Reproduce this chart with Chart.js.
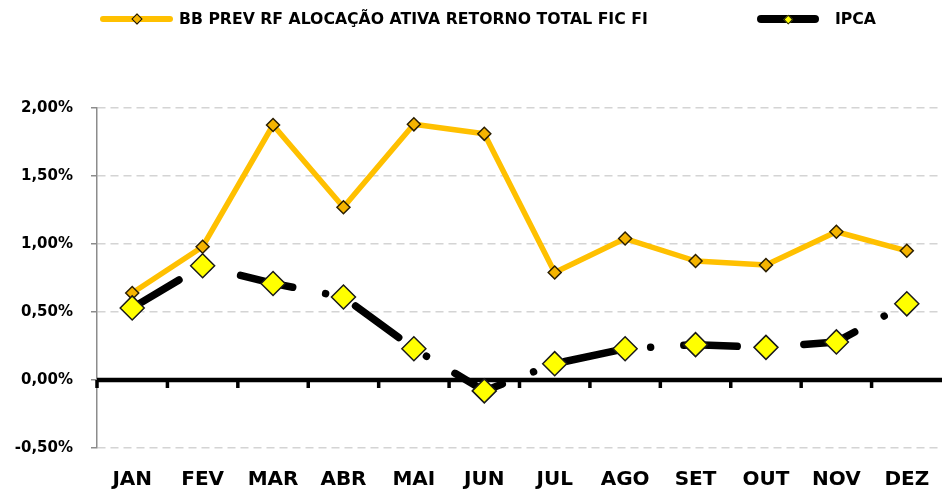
<!DOCTYPE html>
<html>
<head>
<meta charset="utf-8">
<script src="https://cdn.jsdelivr.net/npm/chart.js@4.4.0/dist/chart.umd.min.js"></script>
<style>
  html, body { margin: 0; padding: 0; background: #fff; }
  #wrap { position: relative; width: 944px; height: 493px; }
  #legend { position: absolute; left: 0; top: 0; width: 944px; height: 40px;
            font-family: "DejaVu Sans", sans-serif; font-weight: bold; font-size: 15.7px; color: #000; }
  .sample { position: absolute; }
  .diam { position: absolute; transform: rotate(45deg); box-sizing: border-box; }
  .ltext { position: absolute; top: 10px; line-height: 18px; white-space: nowrap; }
</style>
</head>
<body>
<div id="wrap">
  <canvas id="lineChart" width="944" height="493"></canvas>
  <div id="legend"></div>
</div>
<script>
var months = ['JAN', 'FEV', 'MAR', 'ABR', 'MAI', 'JUN', 'JUL', 'AGO', 'SET', 'OUT', 'NOV', 'DEZ'];
var bbPrev = [0.64, 0.98, 1.875, 1.27, 1.88, 1.81, 0.79, 1.04, 0.875, 0.845, 1.09, 0.95];
var ipca = [0.53, 0.84, 0.71, 0.61, 0.23, -0.08, 0.12, 0.23, 0.26, 0.24, 0.28, 0.56];
var seriesNames = ['BB PREV RF ALOCAÇÃO ATIVA RETORNO TOTAL FIC FI', 'IPCA'];
var yMin = -0.5, yMax = 2.0, yStep = 0.5;

var FONT = '"DejaVu Sans", sans-serif';

// black zero line with small tick marks between the months
var zeroLine = {
    id: 'zeroLine',
    beforeDatasetsDraw: function (chart) {
        var ctx = chart.ctx, area = chart.chartArea;
        var x = chart.scales.x, y = chart.scales.y;
        var y0 = y.getPixelForValue(0);
        var step = x.getPixelForValue(1) - x.getPixelForValue(0);
        ctx.save();
        ctx.strokeStyle = '#000';
        ctx.lineWidth = 4.5;
        ctx.beginPath();
        ctx.moveTo(area.left, y0);
        ctx.lineTo(area.right, y0);
        ctx.stroke();
        ctx.lineWidth = 3.5;
        for (var i = 0; i < months.length; i++) {
            var px = x.getPixelForValue(0) - step / 2 + i * step;
            ctx.beginPath();
            ctx.moveTo(px, y0);
            ctx.lineTo(px, y0 + 8);
            ctx.stroke();
        }
        ctx.restore();
    }
};

var ctx = document.getElementById('lineChart').getContext('2d');

var myChart = new Chart(ctx, {
    type: 'line',
    data: {
        labels: months,
        datasets: [{
            label: seriesNames[1],
            data: ipca,
            borderColor: '#000000',
            borderWidth: 7.5,
            borderDash: [53.5, 33.5, 0.01, 33.2],
            borderDashOffset: -1,
            borderCapStyle: 'round',
            borderJoinStyle: 'round',
            pointStyle: 'rectRot',
            pointRadius: 12,
            pointBackgroundColor: '#FFFF00',
            pointBorderColor: '#1a1a1a',
            pointBorderWidth: 1.5,
            tension: 0
        }, {
            label: seriesNames[0],
            data: bbPrev,
            borderColor: '#FFC000',
            borderWidth: 5.5,
            borderJoinStyle: 'round',
            pointStyle: 'rectRot',
            pointRadius: 6.5,
            pointBackgroundColor: '#F5B400',
            pointBorderColor: '#2a1e00',
            pointBorderWidth: 1.5,
            tension: 0
        }]
    },
    options: {
        responsive: false,
        animation: false,
        events: [],
        layout: { autoPadding: false, padding: { top: 108, right: 2, bottom: 0, left: 0 } },
        plugins: {
            legend: { display: false },
            tooltip: { enabled: false }
        },
        scales: {
            x: {
                offset: true,
                grid: { display: false, drawTicks: false },
                border: { display: false },
                ticks: {
                    color: '#000',
                    padding: 2,
                    maxRotation: 0,
                    font: { family: FONT, weight: 'bold', size: 20, lineHeight: 3 }
                },
                afterFit: function (scale) {
                    scale.height = 45;
                    scale.paddingLeft = 0;
                    scale.paddingRight = 0;
                }
            },
            y: {
                min: yMin,
                max: yMax,
                grid: {
                    color: function (c) { return c.tick && c.tick.value === 0 ? 'rgba(0,0,0,0)' : '#d4d4d4'; },
                    lineWidth: 1.5,
                    tickLength: 6,
                    tickColor: '#8c8c8c',
                    tickWidth: 1.5
                },
                border: { display: true, color: '#8c8c8c', width: 1.5, dash: [8, 5] },
                ticks: {
                    stepSize: yStep,
                    color: '#000',
                    padding: 18,
                    font: { family: FONT, weight: 'bold', size: 15 },
                    callback: function (v) { return v.toFixed(2).replace('.', ',') + '%'; }
                },
                afterFit: function (scale) { scale.width = 97; }
            }
        }
    },
    plugins: [zeroLine]
});

// legend as html, built from the datasets
(function () {
    var leg = document.getElementById('legend');
    var items = [
        { name: seriesNames[0], line: '#FFC000', lh: 6, x0: 100, x1: 173, dFill: '#F5B400', dSize: 8, tx: 179 },
        { name: seriesNames[1], line: '#000000', lh: 8, x0: 757, x1: 819, dFill: '#FFFF00', dSize: 6.5, tx: 835 }
    ];
    items.forEach(function (it) {
        var s = document.createElement('div');
        s.className = 'sample';
        s.style.left = it.x0 + 'px';
        s.style.top = (19 - it.lh / 2) + 'px';
        s.style.width = (it.x1 - it.x0) + 'px';
        s.style.height = it.lh + 'px';
        s.style.borderRadius = (it.lh / 2) + 'px';
        s.style.background = it.line;
        leg.appendChild(s);
        var d = document.createElement('div');
        d.className = 'diam';
        var cx = (it.x0 + it.x1) / 2;
        d.style.left = (cx - it.dSize / 2) + 'px';
        d.style.top = (19 - it.dSize / 2) + 'px';
        d.style.width = it.dSize + 'px';
        d.style.height = it.dSize + 'px';
        d.style.background = it.dFill;
        d.style.border = '1.5px solid #111';
        leg.appendChild(d);
        var t = document.createElement('div');
        t.className = 'ltext';
        t.style.left = it.tx + 'px';
        t.textContent = it.name;
        leg.appendChild(t);
    });
})();
</script>
</body>
</html>
